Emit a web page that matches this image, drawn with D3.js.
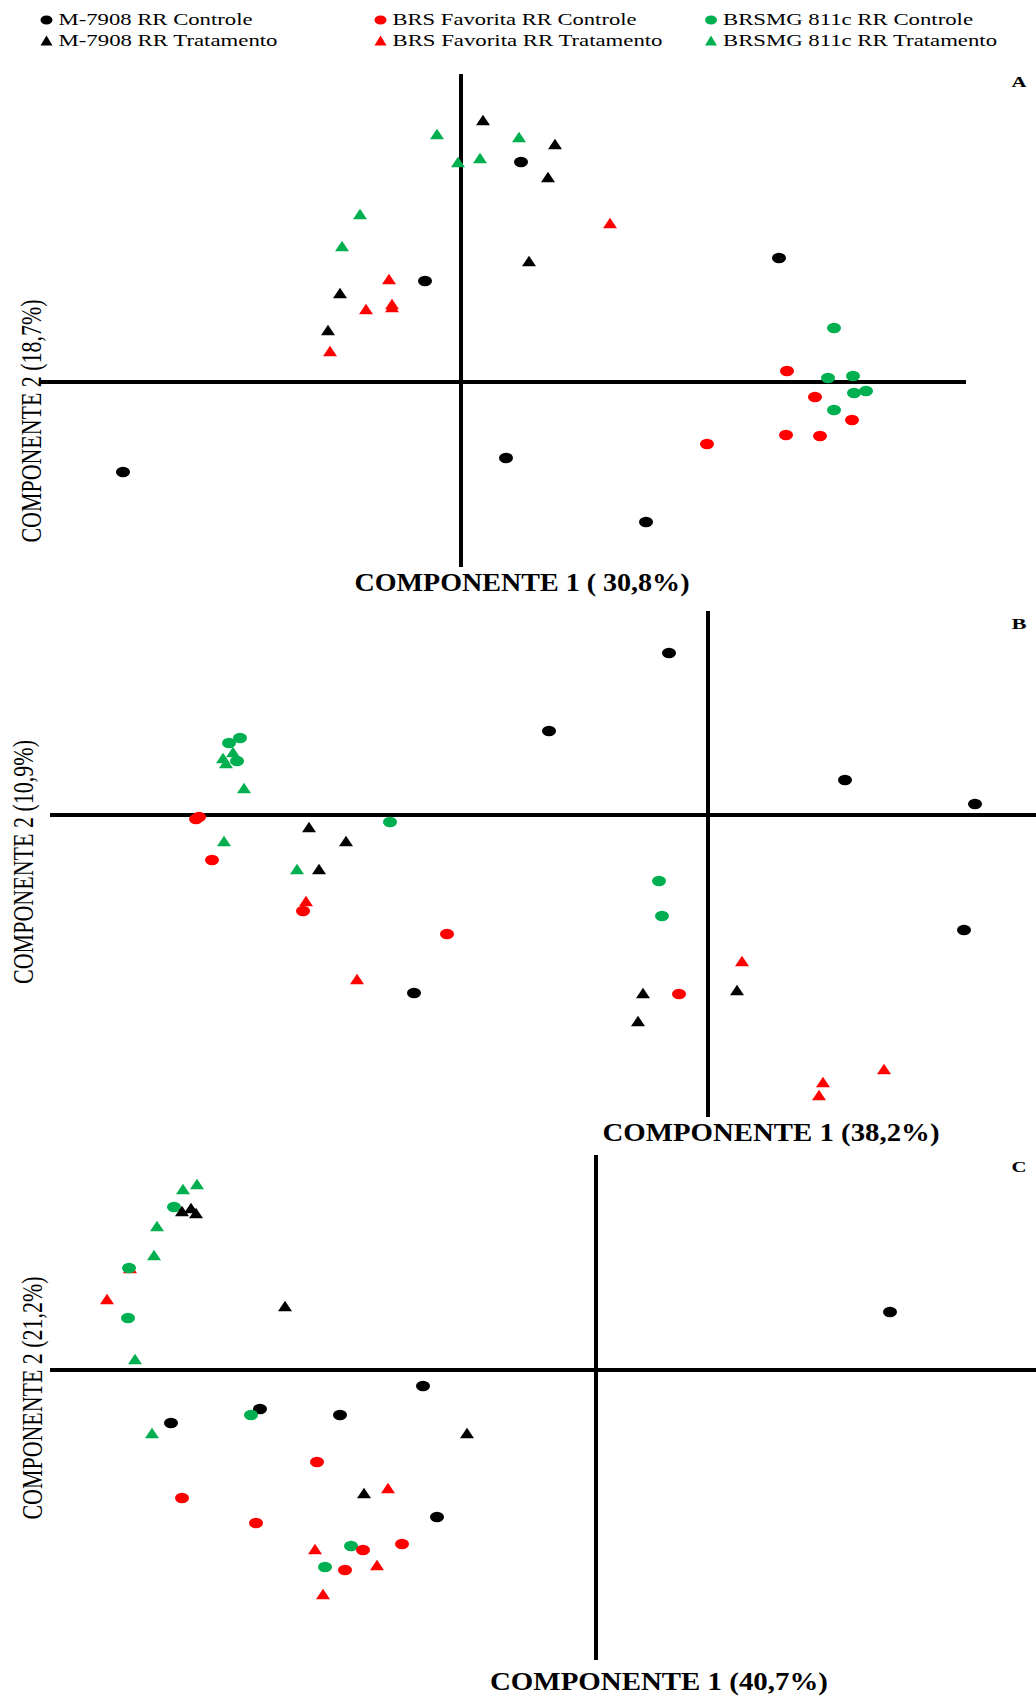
<!DOCTYPE html>
<html>
<head>
<meta charset="utf-8">
<script src="https://cdn.jsdelivr.net/npm/d3@7"></script>
<style>
  body { margin: 0; background: #fff; }
  svg { display: block; }
  text { font-family: "Liberation Serif", "Times New Roman", serif; }
</style>
</head>
<body>
<svg id="chart" width="1036" height="1698"></svg>
<script>
const SERIES = ['M-7908 RR Controle', 'BRS Favorita RR Controle', 'BRSMG 811c RR Controle',
    'M-7908 RR Tratamento', 'BRS Favorita RR Tratamento', 'BRSMG 811c RR Tratamento'];
const SERIES_COLOR = ['#000000', '#ff0000', '#00b050', '#000000', '#ff0000', '#00b050'];
const SERIES_SHAPE = ['circle', 'circle', 'circle', 'triangle', 'triangle', 'triangle'];
const DRAW_ORDER = [0, 4, 2, 1, 5, 3];

// PCA scores, one row per series (6 samples each)
const A_PC1 = [
    [-0.36, -3.38, 0.45, 0.60, 3.18, 1.85],
    [3.26, 3.54, 3.91, 3.25, 3.59, 2.46],
    [3.73, 3.67, 3.92, 3.93, 4.05, 3.73],
    [0.22, 0.94, 0.87, 0.68, -1.21, -1.33],
    [-0.72, -0.95, -0.69, -0.69, -1.31, 1.49],
    [-0.24, -0.03, 0.19, -1.01, -1.19, 0.58]
];
const A_PC2 = [
    [1.01, -0.90, -0.76, 2.20, 1.24, -1.40],
    [0.11, -0.15, -0.38, -0.53, -0.54, -0.62],
    [0.54, 0.04, 0.06, -0.11, -0.09, -0.28],
    [2.62, 2.38, 2.05, 1.21, 0.89, 0.52],
    [1.03, 0.73, 0.78, 0.75, 0.31, 1.59],
    [2.48, 2.20, 2.24, 1.68, 1.36, 2.45]
];
const B_PC1 = [
    [-0.39, -1.59, 1.37, 2.67, 2.56, -2.94],
    [-5.12, -5.09, -4.96, -4.05, -2.61, -0.29],
    [-4.68, -4.79, -4.71, -3.18, -0.49, -0.46],
    [-3.99, -3.62, -3.89, -0.65, 0.29, -0.70],
    [-4.02, -3.51, 0.34, 1.76, 1.15, 1.11],
    [-4.85, -4.75, -4.82, -4.64, -4.84, -4.11]
];
const B_PC2 = [
    [1.62, 0.84, 0.35, 0.11, -1.15, -1.78],
    [-0.04, -0.02, -0.45, -0.96, -1.19, -1.79],
    [0.77, 0.72, 0.54, -0.07, -0.66, -1.01],
    [-0.12, -0.26, -0.54, -1.78, -1.75, -2.06],
    [-0.86, -1.64, -1.46, -2.54, -2.67, -2.80],
    [0.57, 0.63, 0.52, 0.27, -0.26, -0.54]
];
const C_PC1 = [
    [2.94, -1.73, -3.36, -2.56, -4.25, -1.59],
    [-2.79, -4.14, -3.40, -1.94, -2.33, -2.51],
    [-4.22, -4.67, -4.68, -3.45, -2.45, -2.71],
    [-4.14, -4.05, -4.00, -3.11, -1.29, -2.32],
    [-4.66, -4.89, -2.08, -2.81, -2.19, -2.73],
    [-3.99, -4.13, -4.39, -4.42, -4.61, -4.44]
];
const C_PC2 = [
    [0.58, -0.16, -0.39, -0.45, -0.53, -1.47],
    [-0.92, -1.28, -1.53, -1.74, -1.80, -2.00],
    [1.63, 1.02, 0.52, -0.45, -1.76, -1.97],
    [1.59, 1.62, 1.57, 0.64, -0.63, -1.23],
    [1.02, 0.71, -1.18, -1.79, -1.95, -2.24],
    [1.86, 1.81, 1.44, 1.15, 0.11, -0.63]
];

const A_XDOMAIN = [-4.22, 5.05], A_YDOMAIN = [-1.85, 3.08];
const B_XDOMAIN = [-6.58, 3.28], B_YDOMAIN = [-3.02, 2.04];
const C_XDOMAIN = [-5.46, 4.40], C_YDOMAIN = [-2.90, 2.15];

const X_TITLES = ['COMPONENTE 1 ( 30,8%)', 'COMPONENTE 1 (38,2%)', 'COMPONENTE 1 (40,7%)'];
const Y_TITLES = ['COMPONENTE 2 (18,7%)', 'COMPONENTE 2 (10,9%)', 'COMPONENTE 2 (21,2%)'];
const PANEL_LETTERS = ['A', 'B', 'C'];

const panels = [
    { pc1: A_PC1, pc2: A_PC2, xd: A_XDOMAIN, yd: A_YDOMAIN, xr: [39, 966], yr: [567, 74],
      xt: [522, 591, 335], yt: [41, 421, 243], ly: 87 },
    { pc1: B_PC1, pc2: B_PC2, xd: B_XDOMAIN, yd: B_YDOMAIN, xr: [50, 1036], yr: [1117, 611],
      xt: [771, 1141, 337], yt: [33, 862, 244], ly: 629 },
    { pc1: C_PC1, pc2: C_PC2, xd: C_XDOMAIN, yd: C_YDOMAIN, xr: [50, 1036], yr: [1660, 1155],
      xt: [659, 1690, 338], yt: [42, 1398, 243], ly: 1172 }
];

const svg = d3.select('#chart');

function marker(sel, shape, color, w, h) {
    if (shape === 'circle') {
        sel.append('ellipse').attr('rx', w / 2).attr('ry', h / 2).attr('fill', color);
    } else {
        sel.append('path')
            .attr('d', `M0,${-h / 2}L${w / 2},${h / 2}L${-w / 2},${h / 2}Z`)
            .attr('fill', color);
    }
}

// legend
const legendCols = [46.5, 380.5, 711];
const legendRows = [20, 40.5];
const legendTextW = [194, 244, 250, 219, 270, 274];
SERIES.forEach((name, i) => {
    const g = svg.append('g')
        .attr('transform', `translate(${legendCols[i % 3]},${legendRows[Math.floor(i / 3)]})`);
    marker(g, SERIES_SHAPE[i], SERIES_COLOR[i], 12, SERIES_SHAPE[i] === 'circle' ? 9 : 10);
    g.append('text')
        .attr('x', 12).attr('y', 5)
        .attr('font-size', 16)
        .attr('textLength', legendTextW[i])
        .attr('lengthAdjust', 'spacingAndGlyphs')
        .text(name);
});

panels.forEach((p, k) => {
    const x = d3.scaleLinear().domain(p.xd).range(p.xr);
    const y = d3.scaleLinear().domain(p.yd).range(p.yr);
    const g = svg.append('g');

    // axes through the origin
    g.append('line')
        .attr('x1', p.xr[0]).attr('x2', p.xr[1])
        .attr('y1', y(0)).attr('y2', y(0))
        .attr('stroke', '#000').attr('stroke-width', 4);
    g.append('line')
        .attr('x1', x(0)).attr('x2', x(0))
        .attr('y1', p.yr[1]).attr('y2', p.yr[0])
        .attr('stroke', '#000').attr('stroke-width', 4);

    // points
    DRAW_ORDER.forEach(s => {
        p.pc1[s].forEach((v, j) => {
            const m = g.append('g').attr('transform', `translate(${x(v)},${y(p.pc2[s][j])})`);
            marker(m, SERIES_SHAPE[s], SERIES_COLOR[s], 14, 10.5);
        });
    });

    // titles
    g.append('text')
        .attr('x', p.xt[0]).attr('y', p.xt[1])
        .attr('text-anchor', 'middle')
        .attr('font-size', 26).attr('font-weight', 'bold')
        .attr('textLength', p.xt[2]).attr('lengthAdjust', 'spacingAndGlyphs')
        .text(X_TITLES[k]);
    g.append('text')
        .attr('transform', `translate(${p.yt[0]},${p.yt[1]}) rotate(-90)`)
        .attr('text-anchor', 'middle')
        .attr('font-size', 29)
        .attr('textLength', p.yt[2]).attr('lengthAdjust', 'spacingAndGlyphs')
        .text(Y_TITLES[k]);
    g.append('text')
        .attr('x', 1019).attr('y', p.ly)
        .attr('text-anchor', 'middle')
        .attr('font-size', 15).attr('font-weight', 'bold')
        .attr('textLength', 15).attr('lengthAdjust', 'spacingAndGlyphs')
        .text(PANEL_LETTERS[k]);
});
</script>
</body>
</html>
